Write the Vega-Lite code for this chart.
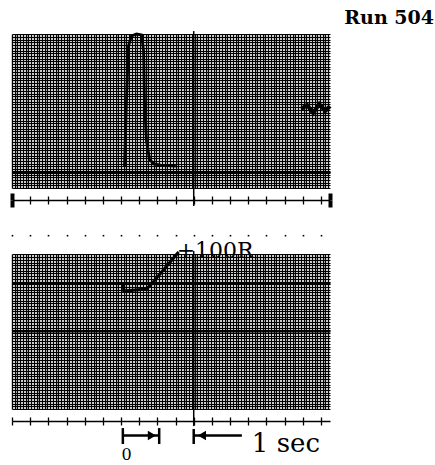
{
  "$schema": "https://vega.github.io/schema/vega-lite/v6.json",
  "background": "white",
  "padding": {"left": 10, "top": 9, "right": 0, "bottom": 0},
  "bounds": "flush",
  "spacing": 66,
  "title": {"text": "Run 504", "anchor": "end", "font": "DejaVu Serif", "fontSize": 19, "fontWeight": "bold", "dx": 96, "dy": 5, "offset": 5, "color": "black"},
  "config": {"view": {"stroke": null}, "axis": {"title": null}},
  "datasets": {
    "topTrace": [
      {"t": -3.81, "v": 13.6}, {"t": -3.7, "v": 56.5}, {"t": -3.59, "v": 92.2}, {"t": -3.43, "v": 98.7},
      {"t": -3.15, "v": 100}, {"t": -2.87, "v": 99.4}, {"t": -2.76, "v": 89}, {"t": -2.71, "v": 56.5},
      {"t": -2.6, "v": 30.5}, {"t": -2.43, "v": 18.8}, {"t": -2.21, "v": 15.6}, {"t": -1.82, "v": 14.9},
      {"t": -0.99, "v": 14.3}
    ],
    "topNoise": [
      {"t": 5.91, "v": 51.3}, {"t": 6.24, "v": 53.9}, {"t": 6.57, "v": 48.7}, {"t": 6.91, "v": 54.5},
      {"t": 7.24, "v": 50}, {"t": 7.5, "v": 53.2}
    ],
    "center": [{"t": 0}],
    "bottomTrace": [
      {"t": -3.87, "v": 80.6}, {"t": -3.85, "v": 76.1}, {"t": -2.6, "v": 77.4}, {"t": -2.32, "v": 80.6},
      {"t": -0.83, "v": 101.3}
    ],
    "bottomMarks": [
      {"t": -3.9, "t2": -3.9, "v": -12.3, "v2": -22.6},
      {"t": -1.9, "t2": -1.9, "v": -12.3, "v2": -22.6},
      {"t": 0, "t2": 0, "v": -12.9, "v2": -22.6},
      {"t": -3.9, "t2": -1.9, "v": -17.1, "v2": -17.1},
      {"t": 0, "t2": 2.65, "v": -17.1, "v2": -17.1}
    ],
    "arrowHeads": [
      {"t": -2.3, "v": -17.1, "dir": "right"},
      {"t": 0.45, "v": -17.1, "dir": "left"}
    ],
    "peakLabel": [{"t": -0.94, "v": 97.4, "label": "+100R"}],
    "zeroLabel": [{"t": -3.7, "v": -33.2, "label": "0"}],
    "secLabel": [{"t": 3.2, "v": -27.7, "label": "1 sec"}]
  },
  "vconcat": [
    {
      "width": 318,
      "height": 154,
      "resolve": {"axis": {"x": "independent", "y": "independent"}},
      "layer": [
        {
          "data": {"name": "topTrace"},
          "mark": {"type": "line", "color": "black", "strokeWidth": 2.8},
          "encoding": {
            "x": {"field": "t", "type": "quantitative", "scale": {"domain": [-10, 7.5], "nice": false, "zero": false},
              "axis": {"values": {"expr": "sequence(-10, 7.6, 0.15)"}, "grid": true, "gridColor": "black", "gridOpacity": 1, "gridWidth": 1.4, "labels": false, "ticks": false, "domain": false}},
            "y": {"field": "v", "type": "quantitative", "scale": {"domain": [0, 100], "nice": false, "zero": false},
              "axis": {"values": {"expr": "sequence(0, 101, 1.75)"}, "grid": true, "gridColor": "black", "gridOpacity": 1, "gridWidth": 1.2, "labels": false, "ticks": false, "domain": false}}
          }
        },
        {
          "data": {"name": "topNoise"},
          "mark": {"type": "line", "color": "black", "strokeWidth": 4},
          "encoding": {
            "x": {"field": "t", "type": "quantitative", "scale": {"domain": [-10, 7.5], "nice": false, "zero": false},
              "axis": {"orient": "bottom", "offset": 12, "grid": false, "labels": false, "domain": true, "domainColor": "black", "domainWidth": 1.5,
                "values": [-10, -9, -8, -7, -6, -5, -4, -3, -2, -1, 0, 1, 2, 3, 4, 5, 6, 7, 7.5],
                "tickColor": "black",
                "tickWidth": {"condition": {"test": "datum.value == -10 || datum.value == 7.5", "value": 4}, "value": 1.3},
                "tickSize": {"condition": {"test": "datum.value == -10 || datum.value == 7.5", "value": 7}, "value": 4}}},
            "y": {"field": "v", "type": "quantitative", "scale": {"domain": [0, 100], "nice": false, "zero": false},
              "axis": {"values": [10.4], "grid": true, "gridColor": "black", "gridOpacity": 1, "gridWidth": 3, "labels": false, "ticks": false, "domain": false}}
          }
        },
        {
          "data": {"name": "center"},
          "mark": {"type": "rule", "color": "black", "strokeWidth": 1.5},
          "encoding": {
            "x": {"field": "t", "type": "quantitative", "scale": {"domain": [-10, 7.5], "nice": false, "zero": false},
              "axis": {"orient": "bottom", "offset": 12, "grid": false, "labels": false, "domain": false,
                "values": [-10, -9, -8, -7, -6, -5, -4, -3, -2, -1, 0, 1, 2, 3, 4, 5, 6, 7, 7.5],
                "tickColor": "black",
                "tickWidth": {"condition": {"test": "datum.value == -10 || datum.value == 7.5", "value": 4}, "value": 1.3},
                "tickSize": {"condition": {"test": "datum.value == -10 || datum.value == 7.5", "value": -7}, "value": -4}}},
            "y": {"datum": 101.9, "type": "quantitative", "scale": {"domain": [0, 100], "nice": false, "zero": false}, "axis": null},
            "y2": {"datum": -11.7}
          }
        }
      ]
    },
    {
      "width": 318,
      "height": 155,
      "resolve": {"axis": {"x": "independent", "y": "independent"}},
      "layer": [
        {
          "data": {"name": "bottomTrace"},
          "mark": {"type": "line", "color": "black", "strokeWidth": 3},
          "encoding": {
            "x": {"field": "t", "type": "quantitative", "scale": {"domain": [-10, 7.5], "nice": false, "zero": false},
              "axis": {"values": {"expr": "sequence(-10, 7.6, 0.15)"}, "grid": true, "gridColor": "black", "gridOpacity": 1, "gridWidth": 1.4, "labels": false, "ticks": false, "domain": false}},
            "y": {"field": "v", "type": "quantitative", "scale": {"domain": [0, 100], "nice": false, "zero": false},
              "axis": {"values": {"expr": "sequence(0, 101, 1.75)"}, "grid": true, "gridColor": "black", "gridOpacity": 1, "gridWidth": 1.2, "labels": false, "ticks": false, "domain": false}}
          }
        },
        {
          "data": {"name": "center"},
          "mark": {"type": "rule", "color": "black", "strokeWidth": 1.5},
          "encoding": {
            "x": {"field": "t", "type": "quantitative", "scale": {"domain": [-10, 7.5], "nice": false, "zero": false},
              "axis": {"orient": "bottom", "offset": 12, "grid": false, "labels": false, "domain": true, "domainColor": "black", "domainWidth": 1.5,
                "values": [-10, -9, -8, -7, -6, -5, -4, -3, -2, -1, 0, 1, 2, 3, 4, 5, 6, 7],
                "tickColor": "black", "tickWidth": 1.3, "tickSize": 4}},
            "y": {"datum": 101.9, "type": "quantitative", "scale": {"domain": [0, 100], "nice": false, "zero": false},
              "axis": {"values": [81.3, 50.3], "grid": true, "gridColor": "black", "gridOpacity": 1, "gridWidth": 2, "labels": false, "ticks": false, "domain": false}},
            "y2": {"datum": -11}
          }
        },
        {
          "data": {"name": "bottomMarks"},
          "mark": {"type": "rule", "color": "black", "strokeWidth": 2.5},
          "encoding": {
            "x": {"field": "t", "type": "quantitative", "scale": {"domain": [-10, 7.5], "nice": false, "zero": false},
              "axis": {"orient": "bottom", "offset": 12, "grid": false, "labels": false, "domain": false,
                "values": [-10, -9, -8, -7, -6, -5, -4, -3, -2, -1, 0, 1, 2, 3, 4, 5, 6, 7],
                "tickColor": "black", "tickWidth": 1.3, "tickSize": -4}},
            "x2": {"field": "t2"},
            "y": {"field": "v", "type": "quantitative", "scale": {"domain": [0, 100], "nice": false, "zero": false}, "axis": null},
            "y2": {"field": "v2"}
          }
        },
        {
          "data": {"name": "arrowHeads"},
          "mark": {"type": "point", "filled": true, "color": "black", "opacity": 1, "size": 90},
          "encoding": {
            "x": {"field": "t", "type": "quantitative", "scale": {"domain": [-10, 7.5], "nice": false, "zero": false},
              "axis": {"orient": "top", "offset": 18, "grid": false, "labels": false, "domain": false,
                "values": [-10, -9, -8, -7, -6, -5, -4, -3, -2, -1, 0, 1, 2, 3, 4, 5, 6, 7],
                "tickColor": "black", "tickWidth": 1.6, "tickSize": 1.6}},
            "y": {"field": "v", "type": "quantitative", "scale": {"domain": [0, 100], "nice": false, "zero": false}, "axis": null},
            "shape": {"field": "dir", "type": "nominal", "scale": {"domain": ["right", "left"], "range": ["triangle-right", "triangle-left"]}, "legend": null}
          }
        },
        {
          "data": {"name": "peakLabel"},
          "mark": {"type": "text", "font": "DejaVu Serif", "fontSize": 22, "color": "black", "baseline": "alphabetic", "align": "left"},
          "encoding": {
            "x": {"field": "t", "type": "quantitative", "scale": {"domain": [-10, 7.5], "nice": false, "zero": false}, "axis": null},
            "y": {"field": "v", "type": "quantitative", "scale": {"domain": [0, 100], "nice": false, "zero": false}, "axis": null},
            "text": {"field": "label"}
          }
        },
        {
          "data": {"name": "zeroLabel"},
          "mark": {"type": "text", "font": "DejaVu Serif", "fontSize": 16, "color": "black", "baseline": "alphabetic", "align": "center"},
          "encoding": {
            "x": {"field": "t", "type": "quantitative", "scale": {"domain": [-10, 7.5], "nice": false, "zero": false}, "axis": null},
            "y": {"field": "v", "type": "quantitative", "scale": {"domain": [0, 100], "nice": false, "zero": false}, "axis": null},
            "text": {"field": "label"}
          }
        },
        {
          "data": {"name": "secLabel"},
          "mark": {"type": "text", "font": "DejaVu Serif", "fontSize": 26, "color": "black", "baseline": "alphabetic", "align": "left"},
          "encoding": {
            "x": {"field": "t", "type": "quantitative", "scale": {"domain": [-10, 7.5], "nice": false, "zero": false}, "axis": null},
            "y": {"field": "v", "type": "quantitative", "scale": {"domain": [0, 100], "nice": false, "zero": false}, "axis": null},
            "text": {"field": "label"}
          }
        }
      ]
    }
  ]
}
